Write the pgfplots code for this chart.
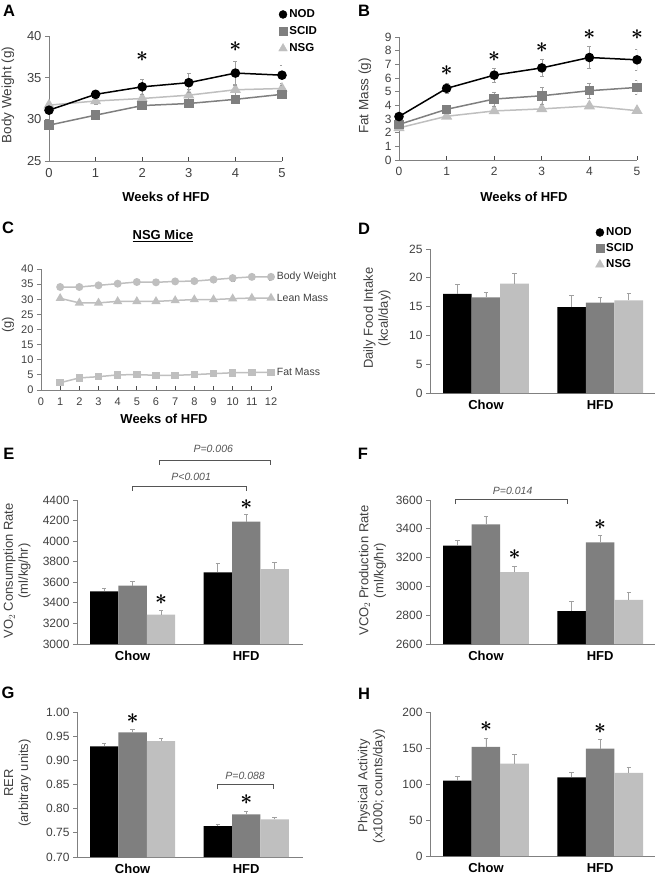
\documentclass[border=0pt]{standalone}
\usepackage{fontspec}
\setmainfont{Liberation Sans}
\usepackage{pgfplots}
\pgfplotsset{compat=1.18}

\definecolor{scid}{HTML}{7F7F7F}
\definecolor{nsg}{HTML}{BFBFBF}
\definecolor{axgray}{HTML}{808080}
\definecolor{txtgray}{HTML}{404040}
\definecolor{errgray}{HTML}{A0A0A0}
\definecolor{brk}{HTML}{555555}

\pgfplotsset{
  panel/.style={
    scale only axis, anchor=south west, clip mode=individual,
    axis lines*=left,
    axis line style={draw=axgray, line width=0.9pt},
    tick style={draw=axgray, line width=0.9pt},
    tick align=outside, major tick length=4pt,
    tick label style={font=\fontsize{12}{13}\selectfont, text=txtgray},
    /pgf/number format/assume math mode=true,
    /pgf/number format/1000 sep={},
    ylabel style={font=\fontsize{13}{15}\selectfont, text=txtgray, align=center, anchor=center},
    xlabel style={font=\bfseries\fontsize{13}{15}\selectfont, anchor=center},
    legend style={draw=none, fill=none, font=\bfseries\fontsize{11.5}{13}\selectfont,
      inner sep=0pt, row sep=3.5pt, anchor=north west},
    legend cell align=left,
  },
  lines/.style={panel, major x tick style={yshift=4pt, draw=black!70}},
  bars/.style={panel, xmin=-0.49, xmax=1.48, xtick={0,1}, xticklabels={Chow,HFD},
    xticklabel style={font=\bfseries\fontsize{13}{15}\selectfont, text=black},
    major x tick style={draw=none}},
  bar/.style={ybar, bar width=0.25, bar shift=0pt, fill=#1, draw=none,
    error bars/.cd, y dir=plus, y explicit,
    error bar style={errgray, line width=0.7pt},
    error mark options={rotate=90, errgray, mark size=2.2pt, line width=0.7pt}},
  err/.style={error bars/.cd, y dir=both, y explicit,
    error bar style={errgray, line width=0.6pt},
    error mark options={rotate=90, errgray, mark size=2pt, line width=0.6pt}},
}
\newcommand{\sig}{\fontsize{21}{21}\selectfont$\boldsymbol{\ast}$}
\tikzset{pval/.style={font=\itshape\fontsize{10.5}{11}\selectfont, text=brk},
  brk/.style={draw=brk, line width=0.8pt}}
\usepackage{amsmath,amssymb}
\usepackage{bm}
\renewcommand{\sig}{\fontsize{21}{21}\selectfont$\bm{\ast}$}

\begin{document}
\begin{tikzpicture}
\path[use as bounding box] (0pt,0pt) rectangle (660pt,-877pt);

% panel letters
\foreach \l/\x/\y in {A/9/11,B/364/11,C/8/228,D/364/229,E/9/454,F/363/454,G/8/693,H/364/694}
  \node[font=\bfseries\fontsize{16.5}{17}\selectfont] at (\x pt,-\y pt) {\l};

% ---------------- A
\begin{axis}[lines, at={(49pt,-161pt)}, width=233pt, height=125pt,
  xmin=0, xmax=5, ymin=25, ymax=40, xtick={0,...,5}, ytick={25,30,35,40},
  tick label style={font=\fontsize{13}{14}\selectfont},
  xlabel={Weeks of HFD}, ylabel={Body Weight (g)},
  ylabel style={font=\fontsize{13.5}{15}\selectfont},
  xlabel style={at={(axis description cs:0.502,-0.288)}},
  ylabel style={at={(axis description cs:-0.176,0.528)}},
  legend style={at={(axis description cs:0.985,1.228)}}]
\addlegendimage{only marks, mark=*, mark size=4pt, black}
\addlegendentry{NOD}
\addlegendimage{only marks, mark=square*, mark size=4pt, scid}
\addlegendentry{SCID}
\addlegendimage{only marks, mark=triangle*, mark size=5pt, nsg}
\addlegendentry{NSG}
\addplot[forget plot, nsg, line width=1.5pt, mark=triangle*, mark size=5pt, err] coordinates {
  (0,31.7)+-(0,0.4) (1,32.2)+-(0,0.4) (2,32.5)+-(0,0.5) (3,32.9)+-(0,0.7) (4,33.55)+-(0,0.7) (5,33.7)+-(0,0.6)};
\addplot[forget plot, scid, line width=1.5pt, mark=square*, mark size=4pt, err] coordinates {
  (0,29.3)+-(0,0.4) (1,30.5)+-(0,0.4) (2,31.65)+-(0,0.5) (3,31.9)+-(0,0.5) (4,32.4)+-(0,0.5) (5,33.0)+-(0,0.5)};
\addplot[forget plot, black, line width=1.5pt, mark=*, mark size=4pt, err] coordinates {
  (0,31.1)+-(0,0.4) (1,33.0)+-(0,0.45) (2,33.9)+-(0,0.9) (3,34.4)+-(0,1.1) (4,35.55)+-(0,1.45) (5,35.3)+-(0,1.2)};
\node at (axis cs:2,37.5) {\sig};
\node at (axis cs:4,38.7) {\sig};
\end{axis}

% ---------------- B
\begin{axis}[lines, at={(399pt,-160pt)}, width=238pt, height=123pt,
  xmin=0, xmax=5, ymin=0, ymax=9, xtick={0,...,5}, ytick={0,...,9},
  xlabel={Weeks of HFD}, ylabel={Fat Mass (g)},
  ylabel style={font=\fontsize{13.5}{15}\selectfont},
  xlabel style={at={(axis description cs:0.525,-0.301)}},
  ylabel style={at={(axis description cs:-0.143,0.52)}}]
\addplot[nsg, line width=1.5pt, mark=triangle*, mark size=5pt, err] coordinates {
  (0,2.35)+-(0,0.15) (1,3.2)+-(0,0.15) (2,3.59)+-(0,0.2) (3,3.74)+-(0,0.2) (4,3.95)+-(0,0.2) (5,3.61)+-(0,0.15)};
\addplot[scid, line width=1.5pt, mark=square*, mark size=4pt, err] coordinates {
  (0,2.6)+-(0,0.2) (1,3.71)+-(0,0.3) (2,4.46)+-(0,0.5) (3,4.7)+-(0,0.6) (4,5.07)+-(0,0.55) (5,5.31)+-(0,0.5)};
\addplot[black, line width=1.5pt, mark=*, mark size=4pt, err] coordinates {
  (0,3.18)+-(0,0.2) (1,5.24)+-(0,0.36) (2,6.21)+-(0,0.5) (3,6.74)+-(0,0.63) (4,7.5)+-(0,0.82) (5,7.33)+-(0,0.75)};
\node at (axis cs:1,6.57) {\sig};
\node at (axis cs:2,7.6) {\sig};
\node at (axis cs:3,8.2) {\sig};
\node at (axis cs:4,9.2) {\sig};
\node at (axis cs:5,9.17) {\sig};
\end{axis}

% ---------------- C
\node[font=\bfseries\fontsize{13}{15}\selectfont] at (163pt,-236pt) {\underline{NSG Mice}};
\begin{axis}[lines, at={(41pt,-390pt)}, width=230pt, height=121pt,
  xmin=0, xmax=12, ymin=0, ymax=40, xtick={0,...,12}, ytick={0,5,...,40},
  tick label style={font=\fontsize{11}{12}\selectfont},
  xlabel={Weeks of HFD}, ylabel={(g)},
  xlabel style={at={(axis description cs:0.535,-0.24)}},
  ylabel style={at={(axis description cs:-0.143,0.537)}}]
\addplot[nsg, line width=1.5pt, mark=*, mark size=3.2pt, err] coordinates {
  (1,34.05)+-(0,0.5) (2,34.05)+-(0,0.5) (3,34.6)+-(0,0.6) (4,35.15)+-(0,0.6) (5,35.7)+-(0,0.7) (6,35.6)+-(0,0.7)
  (7,35.9)+-(0,0.7) (8,36.0)+-(0,0.8) (9,36.5)+-(0,0.8) (10,37.0)+-(0,0.9) (11,37.4)+-(0,0.9) (12,37.4)+-(0,1.0)};
\addplot[nsg, line width=1.5pt, mark=triangle*, mark size=3.8pt] coordinates {
  (1,30.3) (2,28.8) (3,28.8) (4,29.3) (5,29.3) (6,29.3) (7,29.6) (8,29.9) (9,29.9) (10,30.2) (11,30.4) (12,30.4)};
\addplot[nsg, line width=1.5pt, mark=square*, mark size=3pt] coordinates {
  (1,2.4) (2,4.0) (3,4.4) (4,5.0) (5,5.1) (6,4.85) (7,4.85) (8,5.1) (9,5.4) (10,5.7) (11,5.8) (12,5.8)};
\node[anchor=west, font=\fontsize{10.5}{12}\selectfont, text=txtgray] at (axis cs:12.12,37.4) {Body Weight};
\node[anchor=west, font=\fontsize{10.5}{12}\selectfont, text=txtgray] at (axis cs:12.12,30.5) {Lean Mass};
\node[anchor=west, font=\fontsize{10.5}{12}\selectfont, text=txtgray] at (axis cs:12.12,6.0) {Fat Mass};
\end{axis}

% ---------------- D
\begin{axis}[bars, at={(430pt,-393pt)}, width=225pt, height=144pt,
  ymin=0, ymax=25, ytick={0,5,...,25},
  ylabel={Daily Food Intake\\(kcal/day)},
  ylabel style={at={(axis description cs:-0.236,0.52)}},
  legend style={at={(axis description cs:0.735,1.163)}, row sep=2.5pt}]
\addlegendimage{only marks, mark=*, mark size=4pt, black}
\addlegendentry{NOD}
\addlegendimage{only marks, mark=square*, mark size=4pt, scid}
\addlegendentry{SCID}
\addlegendimage{only marks, mark=triangle*, mark size=5pt, nsg}
\addlegendentry{NSG}
\addplot[forget plot, bar=black] coordinates {(-0.25,17.2)+-(0,1.6) (0.75,14.9)+-(0,2.0)};
\addplot[forget plot, bar=scid] coordinates {(0,16.6)+-(0,0.9) (1,15.7)+-(0,0.9)};
\addplot[forget plot, bar=nsg] coordinates {(0.25,19.0)+-(0,1.7) (1.25,16.1)+-(0,1.2)};
\end{axis}

% ---------------- E
\begin{axis}[bars, at={(77pt,-644pt)}, width=226pt, height=144pt, xmax=1.5,
  ymin=3000, ymax=4400, ytick={3000,3200,...,4400},
  ylabel={VO$_2$ Consumption Rate\\(ml/kg/hr)},
  ylabel style={at={(axis description cs:-0.265,0.507)}}]
\addplot[bar=black] coordinates {(-0.25,3512)+-(0,32) (0.75,3697)+-(0,84)};
\addplot[bar=scid] coordinates {(0,3567)+-(0,42) (1,4189)+-(0,71)};
\addplot[bar=nsg] coordinates {(0.25,3285)+-(0,42) (1.25,3729)+-(0,65)};
\node at (axis cs:0.25,3428) {\sig};
\node at (axis cs:1,4351) {\sig};
\draw[brk] (axis cs:0,4492) -- (axis cs:0,4536) -- (axis cs:1,4536) -- (axis cs:1,4492);
\node[pval] at (axis cs:0.515,4624) {P<0.001};
\draw[brk] (axis cs:0.236,4745) -- (axis cs:0.236,4789) -- (axis cs:1.21,4789) -- (axis cs:1.21,4745);
\node[pval] at (axis cs:0.71,4896) {P=0.006};
\end{axis}

% ---------------- F
\begin{axis}[bars, at={(430pt,-644pt)}, width=225pt, height=144pt,
  ymin=2600, ymax=3600, ytick={2600,2800,...,3600},
  ylabel={VCO$_2$ Production Rate\\(ml/kg/hr)},
  ylabel style={at={(axis description cs:-0.256,0.51)}}]
\addplot[bar=black] coordinates {(-0.25,3283)+-(0,35) (0.75,2829)+-(0,70)};
\addplot[bar=scid] coordinates {(0,3431)+-(0,56) (1,3306)+-(0,49)};
\addplot[bar=nsg] coordinates {(0.25,3100)+-(0,42) (1.25,2906)+-(0,55)};
\node at (axis cs:0.25,3218) {\sig};
\node at (axis cs:1,3426) {\sig};
\draw[brk] (axis cs:-0.27,3572) -- (axis cs:-0.27,3607) -- (axis cs:0.71,3607) -- (axis cs:0.71,3572);
\node[pval] at (axis cs:0.234,3662) {P=0.014};
\end{axis}

% ---------------- G
\begin{axis}[bars, at={(77pt,-857pt)}, width=226pt, height=145pt, xmax=1.5,
  ymin=0.70, ymax=1.00, ytick={0.70,0.75,...,1.00},
  yticklabel style={/pgf/number format/.cd, fixed, fixed zerofill, precision=2},
  ylabel={RER\\(arbitrary units)},
  ylabel style={at={(axis description cs:-0.263,0.51)}}]
\addplot[bar=black] coordinates {(-0.25,0.929)+-(0,0.007) (0.75,0.764)+-(0,0.003)};
\addplot[bar=scid] coordinates {(0,0.958)+-(0,0.007) (1,0.788)+-(0,0.007)};
\addplot[bar=nsg] coordinates {(0.25,0.940)+-(0,0.005) (1.25,0.778)+-(0,0.004)};
\node at (axis cs:0,0.987) {\sig};
\node at (axis cs:1,0.819) {\sig};
\draw[brk] (axis cs:0.742,0.840) -- (axis cs:0.742,0.850) -- (axis cs:1.235,0.850) -- (axis cs:1.235,0.840);
\node[pval] at (axis cs:0.99,0.868) {P=0.088};
\end{axis}

% ---------------- H
\begin{axis}[bars, at={(430pt,-856pt)}, width=225pt, height=144pt,
  ymin=0, ymax=200, ytick={0,50,...,200},
  ylabel={Physical Activity\\(x1000; counts/day)},
  ylabel style={at={(axis description cs:-0.26,0.486)}}]
\addplot[bar=black] coordinates {(-0.25,104.7)+-(0,5.3) (0.75,109.3)+-(0,7)};
\addplot[bar=scid] coordinates {(0,151.6)+-(0,12) (1,149.3)+-(0,13)};
\addplot[bar=nsg] coordinates {(0.25,128.4)+-(0,13) (1.25,115.3)+-(0,8.4)};
\node at (axis cs:0,179.6) {\sig};
\node at (axis cs:1,177.4) {\sig};
\end{axis}
\end{tikzpicture}
\end{document}
